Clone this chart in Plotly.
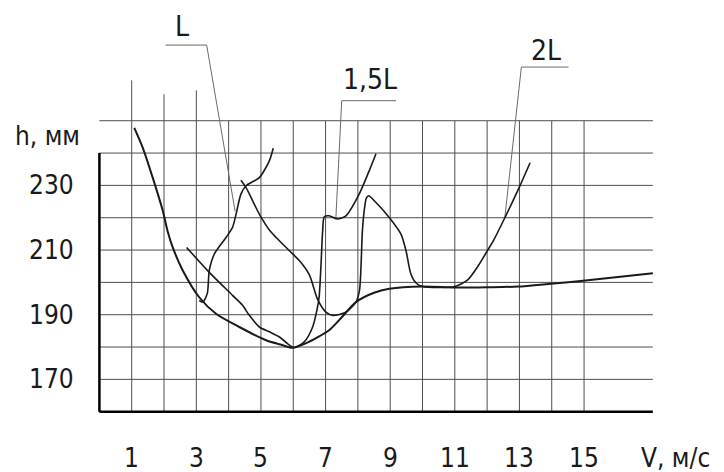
import plotly.graph_objects as go

# ---------------- axis / grid values ----------------
x_tick_vals = [1, 3, 5, 7, 9, 11, 13, 15]
x_tick_text = ["1", "3", "5", "7", "9", "11", "13", "15"]
y_tick_vals = [170, 190, 210, 230]
y_tick_text = ["170", "190", "210", "230"]
v_grid = list(range(1, 16))
h_grid = list(range(170, 260, 10))
v_grid_top_extra = {1: 262.5, 2: 258.2, 3: 259.4}
x_axis_min, x_axis_max = 0.0, 17.13
y_axis_min, y_axis_top, y_grid_top = 160, 240, 250
x_title = "V, м/с"
y_title = "h, мм"

# ---------------- curves ----------------
u_x = [1.08, 1.34, 1.65, 1.96, 2.12, 2.27, 2.58, 3.09, 3.61, 4.33, 5.16, 5.6, 5.97,
       6.4, 7.11, 7.5, 7.94, 8.5, 8.97, 10.0, 11.0, 12.0, 12.95, 13.98, 14.97, 17.13]
u_y = [247.8, 241.7, 232.4, 222.2, 215.5, 210.8, 203.7, 195.4, 190.3, 186.2, 182.1, 180.8, 179.8,
       181.2, 185.2, 189.2, 193.9, 196.8, 198.0, 198.7, 198.4, 198.5, 198.7, 199.6, 200.5, 202.8]

l_x = [3.09, 3.2, 3.34, 3.40, 3.56, 3.92, 4.12, 4.23, 4.38, 4.54, 4.95, 5.26, 5.38]
l_y = [194.4, 193.9, 196.6, 203.7, 208.8, 213.9, 217.0, 221.1, 227.3, 229.9, 232.4, 237.6, 241.5]

l15_x = [2.70, 3.40, 4.12, 4.43, 4.64, 4.95, 5.26, 5.57, 5.88, 6.03, 6.34, 6.6, 6.73, 6.80,
         6.86, 6.91, 6.96, 7.11, 7.37, 7.63, 8.04, 8.35, 8.56]
l15_y = [210.8, 203.1, 196.0, 192.9, 189.8, 186.2, 184.7, 183.1, 180.6, 179.8, 181.6, 186.2, 191.3, 195.4,
         205.7, 216.0, 220.3, 220.6, 219.6, 220.6, 227.3, 234.5, 239.8]

l2_x = [4.38, 4.54, 4.95, 5.26, 5.47, 5.88, 6.2, 6.5, 6.75, 7.01, 7.22, 7.63, 7.94, 8.05,
        8.14, 8.20, 8.26, 8.33, 8.56, 8.97, 9.33, 9.49, 9.64, 9.8, 10.0, 10.5, 11.0, 11.4,
        11.71, 12.02, 12.22, 12.53, 12.99, 13.33]
l2_y = [231.6, 229.3, 221.1, 216.2, 213.9, 209.8, 206.6, 202.3, 194.8, 190.8, 189.8, 190.8, 193.9, 197.5,
        216.0, 222.5, 226.0, 226.8, 224.7, 220.1, 215.0, 209.8, 202.6, 199.8, 198.7, 198.4, 198.7, 200.8,
        204.9, 210.0, 213.4, 219.6, 229.3, 237.0]

# labels and leader lines (series name, label pos, leader polyline)
label_names = ["L", "1,5L", "2L"]
label_x = [2.57, 8.37, 13.82]
label_y = [279.3, 262.9, 271.8]
leader_x = [[2.05, 3.32, 4.20], [9.18, 7.50, 7.32], [14.52, 13.06, 12.55]]
leader_y = [[273.4, 273.4, 222.0], [256.2, 256.2, 220.2], [266.6, 266.6, 220.2]]

# ---------------- figure ----------------
W, H = 724, 472
PAGE_OFFSET = 8  # default body margin of the html page
px_x0, px_unit = 99.4 - PAGE_OFFSET, 32.31
px_y160, px_yunit = 411.7 - PAGE_OFFSET, 3.233
x_range = [-px_x0 / px_unit, (W - px_x0) / px_unit]
y_range = [160 - (H - px_y160) / px_yunit, 160 + px_y160 / px_yunit]

FONT = "DejaVu Sans Condensed, Liberation Sans Narrow, Arial Narrow, Liberation Sans, sans-serif"
GRID = "#4e4e4e"
INK = "#1a1a1a"

fig = go.Figure()

# grid lines
gx, gy = [], []
for v in v_grid:
    gx += [v, v, None]
    gy += [y_axis_min, v_grid_top_extra.get(v, y_grid_top), None]
for h in h_grid:
    gx += [x_axis_min, x_axis_max, None]
    gy += [h, h, None]
fig.add_trace(go.Scatter(x=gx, y=gy, mode="lines", line=dict(color=GRID, width=1),
                         hoverinfo="skip", showlegend=False))

# axes (thick)
fig.add_trace(go.Scatter(x=[x_axis_min, x_axis_min, None, x_axis_min, x_axis_max],
                         y=[y_axis_top, y_axis_min, None, y_axis_min, y_axis_min],
                         mode="lines", line=dict(color="black", width=2.5),
                         hoverinfo="skip", showlegend=False))

# leader lines
for lx, ly in zip(leader_x, leader_y):
    fig.add_trace(go.Scatter(x=lx, y=ly, mode="lines", line=dict(color="#6a6a6a", width=1),
                             hoverinfo="skip", showlegend=False))

# curves
for cx, cy, w in [(u_x, u_y, 2.0), (l_x, l_y, 1.6), (l15_x, l15_y, 1.6), (l2_x, l2_y, 1.6)]:
    fig.add_trace(go.Scatter(x=cx, y=cy, mode="lines",
                             line=dict(color=INK, width=w, shape="spline", smoothing=0.7),
                             hoverinfo="skip", showlegend=False))

ann = []
for v, t in zip(x_tick_vals, x_tick_text):
    ann.append(dict(x=v, y=145.7, text=t, showarrow=False, xanchor="center", yanchor="middle",
                    font=dict(family=FONT, size=26, color=INK)))
for v, t in zip(y_tick_vals, y_tick_text):
    ann.append(dict(x=-0.72, y=v, text=t, showarrow=False, xanchor="right", yanchor="middle",
                    font=dict(family=FONT, size=26, color=INK)))
ann.append(dict(x=16.70, y=145.7, text=x_title, showarrow=False, xanchor="left", yanchor="middle",
                font=dict(family=FONT, size=26, color=INK)))
ann.append(dict(x=-2.67, y=245.4, text=y_title, showarrow=False, xanchor="left", yanchor="middle",
                font=dict(family=FONT, size=26, color=INK)))
for n, lx, ly in zip(label_names, label_x, label_y):
    ann.append(dict(x=lx, y=ly, text=n, showarrow=False, xanchor="center", yanchor="middle",
                    font=dict(family=FONT, size=28, color=INK)))

fig.update_layout(
    width=W, height=H, margin=dict(l=0, r=0, t=0, b=0),
    paper_bgcolor="white", plot_bgcolor="white",
    xaxis=dict(range=x_range, visible=False, fixedrange=True),
    yaxis=dict(range=y_range, visible=False, fixedrange=True),
    annotations=ann, showlegend=False,
)

fig.write_html("out.html")
